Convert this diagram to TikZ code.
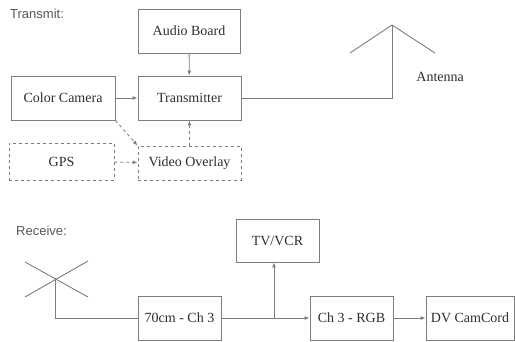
\documentclass[tikz,border=0pt]{standalone}
\usepackage{fontspec}
\setmainfont{Liberation Serif}
\setsansfont{Liberation Sans}
\usetikzlibrary{arrows.meta,positioning}
\definecolor{lnc}{RGB}{125,125,125}
\definecolor{txc}{RGB}{45,45,45}

\begin{document}
\begin{tikzpicture}[x=1pt,y=-1pt,>={Latex[length=5pt,width=4pt]},
  box/.style={draw=lnc,line width=0.9pt,inner sep=2pt,text=txc,
              font=\fontsize{14}{16}\selectfont},
  opt/.style={box,dashed},
  lbl/.style={text=txc!80,inner sep=0pt,font=\sffamily\fontsize{13}{15}\selectfont},
  wire/.style={draw=lnc,line width=0.9pt}]
  \useasboundingbox (0,0) rectangle (515,342);
  % transmit side
  \node[lbl,anchor=west] (txlbl) at (10,14) {Transmit:};
  \node[box,minimum width=102pt,minimum height=44pt] (aud) at (189,31) {Audio Board};
  \node[box,minimum width=103pt,minimum height=44pt] (tx) at (189.5,98) {Transmitter};
  \node[box,minimum width=104pt,minimum height=44pt] (cam) at (63,98) {Color Camera};
  \node[opt,minimum width=105pt,minimum height=37pt] (gps) at (61.5,161.5) {GPS};
  \node[opt,minimum width=103pt,minimum height=34pt] (vo) at (189.5,163) {Video Overlay};
  \coordinate (atop) at (392,25);
  \coordinate (aleft) at (350,53);
  \coordinate (aright) at (435,53);
  \node[box,draw=none,anchor=west,inner sep=0pt] (antlbl) at (416,77) {Antenna};
  \draw[wire,->] (cam) -- (tx);
  \draw[wire,->] (aud) -- (tx);
  \draw[wire,dashed,->] (vo) -- (tx);
  \draw[wire,dashed,->] (gps) -- (vo);
  \draw[wire,dashed,->] (cam.south east) -- (vo.north west);
  \draw[wire] (tx.east) -| (atop);
  \draw[wire] (aleft) -- (atop) -- (aright);
  % receive side
  \node[lbl,anchor=west] (rxlbl) at (16,231) {Receive:};
  \coordinate (rxc) at (55,278);
  \draw[wire] (25,262) -- (88,297);
  \draw[wire] (25,297) -- (88,261);
  \node[box,minimum width=83pt,minimum height=44pt] (rf) at (179.5,318) {70cm - Ch 3};
  \node[box,minimum width=83pt,minimum height=44pt] (rgb) at (351.5,318) {Ch 3 - RGB};
  \node[box,minimum width=88pt,minimum height=44pt] (dv) at (470,318) {DV CamCord};
  \node[box,minimum width=83pt,minimum height=43pt] (tv) at (277.5,240.5) {TV/VCR};
  \coordinate (jn) at (274,318);
  \draw[wire] (rxc) |- (rf.west);
  \draw[wire,->] (rf) -- (rgb);
  \draw[wire,->] (jn) -- (jn |- tv.south);
  \draw[wire,->] (rgb) -- (dv);
\end{tikzpicture}
\end{document}
